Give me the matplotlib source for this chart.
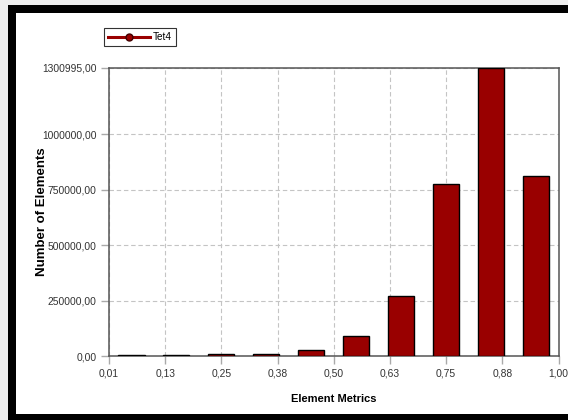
import matplotlib
matplotlib.use('Agg')
import matplotlib.pyplot as plt
import matplotlib.patches as mpatches
from matplotlib.lines import Line2D
import numpy as np

# histogram of element quality (Tet4)
x_min = 0.01
x_max = 1.00
counts = [4000, 4500, 11000, 10000, 27000, 88000, 272000, 777000, 1300995, 813000]
x_tick_labels = ['0,01', '0,13', '0,25', '0,38', '0,50', '0,63', '0,75', '0,88', '1,00']
y_ticks = [0, 250000, 500000, 750000, 1000000, 1300995]
series_name = 'Tet4'

font = ['Liberation Sans', 'DejaVu Sans']
bar_color = '#990000'

fig = plt.figure(figsize=(5.68, 4.2), dpi=100)
fig.patch.set_facecolor('#eeeeee')

# window frame: black border + white inside
fig.add_artist(mpatches.Rectangle((8/568, 0), 1.0, 1 - 5/420, transform=fig.transFigure,
                                  facecolor='black', edgecolor='none', zorder=-10))
fig.add_artist(mpatches.Rectangle((16/568, 1 - 414/420), 1.0, (414 - 13)/420, transform=fig.transFigure,
                                  facecolor='white', edgecolor='none', zorder=-9))

ax = fig.add_axes([109/568, 1 - 356/420, (558.5 - 109)/568, (356 - 67.5)/420])
ax.set_facecolor('white')

n = len(counts)
bin_w = (x_max - x_min) / n
centers = x_min + bin_w * (np.arange(n) + 0.5)
ax.bar(centers, counts, width=bin_w * 0.58, color=bar_color, edgecolor='black', linewidth=1, zorder=3)

ax.set_xlim(x_min, x_max)
ax.set_ylim(0, max(counts))
x_ticks = np.linspace(x_min, x_max, len(x_tick_labels))
ax.set_xticks(x_ticks)
ax.set_xticklabels(x_tick_labels, family=font, fontsize=7.4, color='#333333')
ax.set_yticks(y_ticks)
ax.set_yticklabels(['{:.2f}'.format(v).replace('.', ',') for v in y_ticks],
                   family=font, fontsize=7.4, color='#333333')

ax.tick_params(axis='both', direction='out', length=6, width=1, color='#aaaaaa', pad=3)
ax.set_axisbelow(True)
ax.grid(True, linestyle=(0, (4, 2.5)), color='#c4c4c4', linewidth=0.8)

for s in ax.spines.values():
    s.set_color('#555555')
    s.set_linewidth(1.1)

ax.set_xlabel('Element Metrics', family=font, fontsize=8, fontweight='bold')
ax.xaxis.set_label_coords(0.5, -0.13)
ax.set_ylabel('Number of Elements', family=font, fontsize=9.5, fontweight='bold')
ax.yaxis.set_label_coords(-0.135, 0.5)

handle = Line2D([], [], color=bar_color, linewidth=2.2, marker='o', markersize=5,
                markerfacecolor=bar_color, markeredgecolor='#440000')
leg = fig.legend([handle], [series_name], loc='upper left', bbox_to_anchor=(104/568, 1 - 28/420),
                 bbox_transform=fig.transFigure, borderaxespad=0, frameon=True, fancybox=False,
                 handlelength=4.2, handletextpad=0.3, borderpad=0.4,
                 prop={'family': font, 'size': 7.2})
leg.get_frame().set_edgecolor('black')
leg.get_frame().set_linewidth(0.8)

fig.savefig('out.png', dpi=100, facecolor=fig.get_facecolor())
